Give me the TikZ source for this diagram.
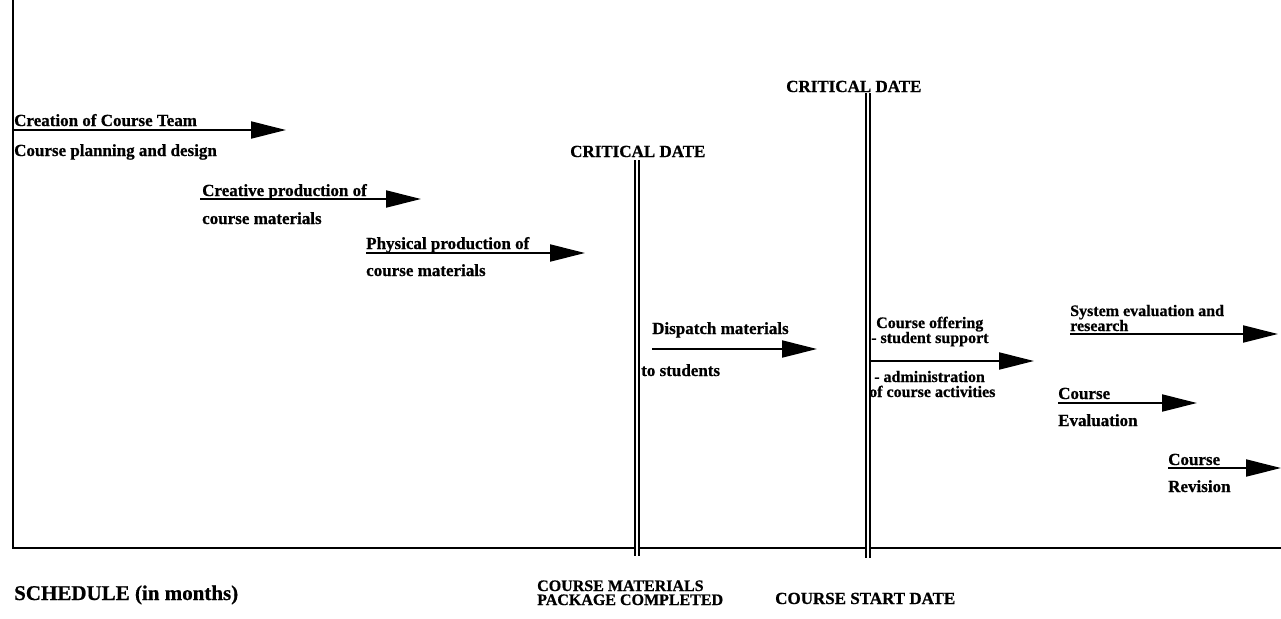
\documentclass[tikz,border=0pt]{standalone}
\usepackage{fontspec}
\setmainfont{Liberation Serif}
\newfontfamily\hv[FakeBold=0.7]{Liberation Serif Bold}
\usetikzlibrary{arrows.meta}
\begin{document}
\begin{tikzpicture}[x=1pt,y=-1pt,
  lbl/.style={font=\fontsize{17}{17}\selectfont\hv, inner sep=0, anchor=base west},
  sml/.style={font=\fontsize{16}{16}\selectfont\hv, inner sep=0, anchor=base west},
  big/.style={font=\fontsize{21}{21}\selectfont\hv, inner sep=0, anchor=base west},
  task/.style={line width=1.9pt, -{Triangle[length=35pt,width=17pt]}},
  axisline/.style={line width=1.9pt},
  crit/.style={double, double distance=2pt, line width=1.8pt}]
\fill[white] (0,0) rectangle (1281,618);
\useasboundingbox (0,0) rectangle (1281,618);

% axes
\coordinate (o) at (13,548);
\coordinate (ytop) at (13,0);
\coordinate (xend) at (1281,548);
\draw[axisline] (ytop) -- (o) -- (xend);

% critical dates
\node[lbl] (cd1) at (570,157) {CRITICAL DATE};
\coordinate (c1t) at (637,160);
\coordinate (c1b) at (637,556);
\draw[crit] (c1t) -- (c1b);
\node[lbl] (cd2) at (786,92) {CRITICAL DATE};
\coordinate (c2t) at (868,93);
\coordinate (c2b) at (868,558);
\draw[crit] (c2t) -- (c2b);

% task 1
\node[lbl] (t1a) at (14,126) {Creation of Course Team};
\node[lbl] (t1b) at (14,156) {Course planning and design};
\coordinate (a1s) at (13,130);
\coordinate (a1e) at (286,130);
\draw[task] (a1s) -- (a1e);

% task 2
\node[lbl] (t2a) at (202,196) {Creative production of};
\node[lbl] (t2b) at (202,224) {course materials};
\coordinate (a2s) at (200,199);
\coordinate (a2e) at (421,199);
\draw[task] (a2s) -- (a2e);

% task 3
\node[lbl] (t3a) at (366,249) {Physical production of};
\node[lbl] (t3b) at (366,276) {course materials};
\coordinate (a3s) at (366,253);
\coordinate (a3e) at (585,253);
\draw[task] (a3s) -- (a3e);

% task 4
\node[lbl] (t4a) at (652,334) {Dispatch materials};
\node[lbl] (t4b) at (641,376) {to students};
\coordinate (a4s) at (652,349);
\coordinate (a4e) at (817,349);
\draw[task] (a4s) -- (a4e);

% task 5
\node[sml] (t5a) at (876,328) {Course offering};
\node[sml] (t5b) at (871,343) {- student support};
\node[sml] (t5c) at (874,382) {- administration};
\node[sml] (t5d) at (869,397) {of course activities};
\coordinate (a5s) at (871,361);
\coordinate (a5e) at (1034,361);
\draw[task] (a5s) -- (a5e);

% task 6
\node[sml] (t6a) at (1070,316) {System evaluation and};
\node[sml] (t6b) at (1070,331) {research};
\coordinate (a6s) at (1070,334);
\coordinate (a6e) at (1278,334);
\draw[task] (a6s) -- (a6e);

% task 7
\node[lbl] (t7a) at (1058,399) {Course};
\node[lbl] (t7b) at (1058,426) {Evaluation};
\coordinate (a7s) at (1058,403);
\coordinate (a7e) at (1197,403);
\draw[task] (a7s) -- (a7e);

% task 8
\node[lbl] (t8a) at (1168,465) {Course};
\node[lbl] (t8b) at (1168,492) {Revision};
\coordinate (a8s) at (1168,468);
\coordinate (a8e) at (1281,468);
\draw[task] (a8s) -- (a8e);

% bottom labels
\node[big] (sch) at (14,600) {SCHEDULE (in months)};
\node[sml] (cm1) at (537,591) {COURSE MATERIALS};
\node[sml] (cm2) at (537,605) {PACKAGE COMPLETED};
\node[lbl] (csd) at (775,604) {COURSE START DATE};
\end{tikzpicture}
\end{document}
